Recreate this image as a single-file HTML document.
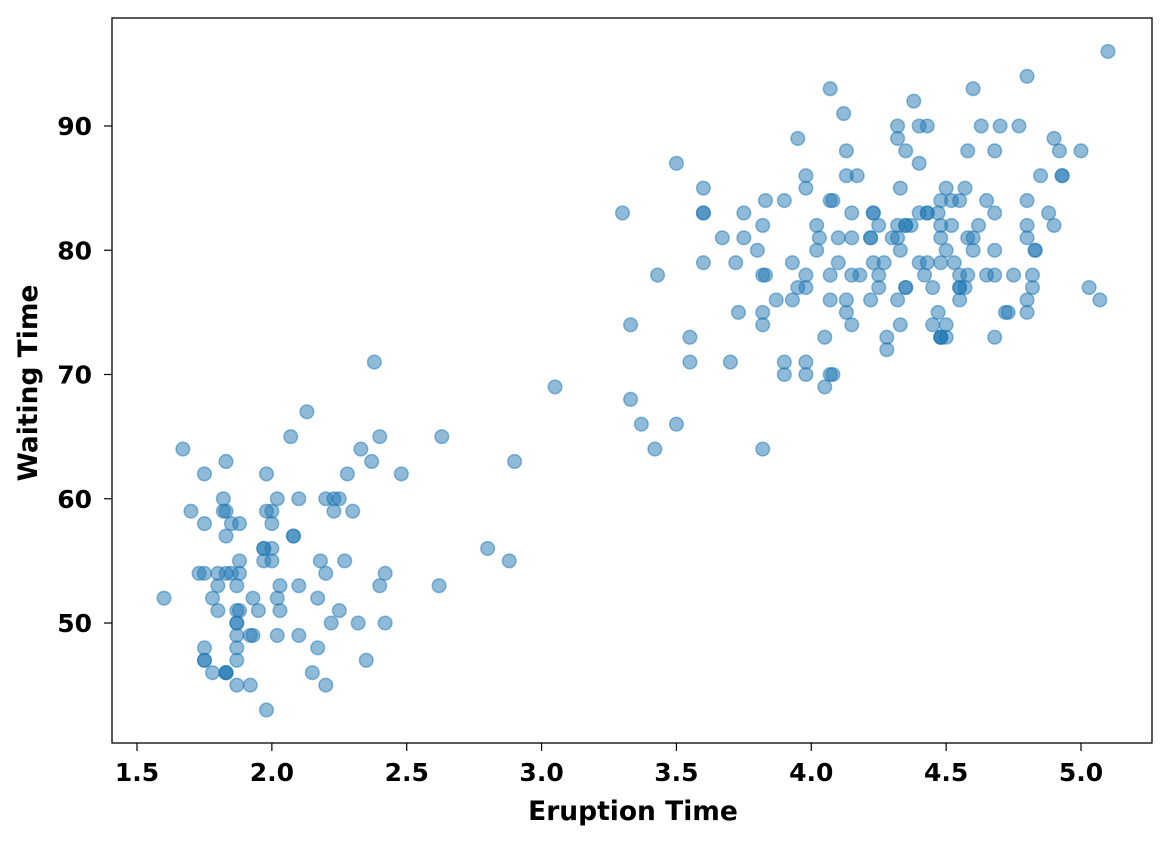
<!DOCTYPE html>
<html><head><meta charset="utf-8"><style>
html,body{margin:0;padding:0;background:#fff;}
svg{display:block;font-family:"DejaVu Sans","Liberation Sans",sans-serif;}
</style></head><body>
<svg id="chart" width="1172" height="844"></svg>
<script>
const eruptions = [1.6,1.67,1.7,1.73,1.75,1.75,1.75,1.75,1.75,1.75,1.78,1.78,1.8,1.8,1.8,1.82,1.82,1.83,1.83,1.83,1.83,1.83,1.83,1.83,1.85,1.85,1.87,1.87,1.87,1.87,1.87,1.87,1.87,1.87,1.88,1.88,1.88,1.88,1.92,1.92,1.93,1.93,1.95,1.97,1.97,1.97,1.98,1.98,1.98,2.0,2.0,2.0,2.0,2.02,2.02,2.02,2.03,2.03,2.07,2.08,2.08,2.1,2.1,2.1,2.13,2.15,2.17,2.17,2.18,2.2,2.2,2.2,2.22,2.23,2.23,2.25,2.25,2.27,2.28,2.3,2.32,2.33,2.35,2.37,2.38,2.4,2.4,2.42,2.42,2.48,2.62,2.63,2.8,2.88,2.9,3.05,
3.3,3.33,3.33,3.37,3.42,3.43,3.5,3.5,3.55,3.55,3.6,3.6,3.6,3.6,3.67,3.7,3.72,3.73,3.75,3.75,3.8,3.82,3.82,3.82,3.82,3.82,3.83,3.83,3.87,3.9,3.9,3.9,3.93,3.93,3.95,3.95,3.98,3.98,3.98,3.98,3.98,3.98,4.02,4.02,4.03,4.05,4.05,4.07,4.07,4.07,4.07,4.07,4.08,4.08,4.1,4.1,4.12,4.13,4.13,4.13,4.13,4.15,4.15,4.15,4.15,4.17,4.18,4.22,4.22,4.22,4.23,4.23,4.23,4.25,4.25,4.25,4.27,4.28,4.28,4.3,4.32,4.32,4.32,4.32,4.32,4.33,4.33,4.33,4.35,4.35,4.35,4.35,4.35,4.37,4.38,4.4,4.4,4.4,4.4,4.42,4.43,4.43,4.43,4.43,4.45,4.45,4.47,4.47,4.48,4.48,4.48,4.48,4.48,4.48,4.48,4.5,4.5,4.5,4.5,4.52,4.52,4.53,4.55,4.55,4.55,4.55,4.55,4.57,4.57,4.58,4.58,4.58,4.6,4.6,4.6,4.62,4.63,4.65,4.65,4.68,4.68,4.68,4.68,4.68,4.7,4.72,4.73,4.75,4.77,4.8,4.8,4.8,4.8,4.8,4.8,4.82,4.82,4.83,4.83,4.85,4.88,4.9,4.9,4.92,4.93,4.93,5.0,5.03,5.07,5.1];
const waiting = [52,64,59,54,54,62,58,48,47,47,52,46,53,51,54,60,59,59,63,57,54,46,46,46,58,54,53,51,50,50,49,48,47,45,58,55,54,51,45,49,52,49,51,56,56,55,62,59,43,59,58,56,55,60,52,49,53,51,65,57,57,60,53,49,67,46,52,48,55,60,54,45,50,60,59,60,51,55,62,59,50,64,47,63,71,65,53,54,50,62,53,65,56,55,63,69,
83,74,68,66,64,78,87,66,73,71,85,83,83,79,81,71,79,75,83,81,80,82,78,75,74,64,84,78,76,84,71,70,79,76,89,77,86,85,78,77,71,70,82,80,81,69,73,93,84,78,76,70,70,84,79,81,91,75,76,86,88,81,83,78,74,86,78,81,81,76,83,83,79,82,78,77,79,73,72,81,90,89,82,81,76,85,80,74,82,82,88,77,77,82,92,90,87,83,79,78,90,79,83,83,77,74,75,83,84,81,82,79,73,73,73,85,80,74,73,82,84,79,84,78,77,77,76,85,77,88,81,78,93,80,81,82,90,84,78,88,83,80,78,73,90,75,75,78,90,94,84,82,81,76,75,78,77,80,80,86,83,89,82,88,86,86,88,77,76,96];
const xTicks = [1.5,2.0,2.5,3.0,3.5,4.0,4.5,5.0];
const yTicks = [50,60,70,80,90];

const NS = "http://www.w3.org/2000/svg";
const svg = document.getElementById("chart");
const L=112, R=1152, T=18, B=743;
function xs(v){ return 137 + (v-1.5)*(944/3.5); }
function ys(v){ return 623 - (v-50)*(497/40); }
function mk(tag, attrs, parent){ const e=document.createElementNS(NS,tag); for(const k in attrs) e.setAttribute(k,attrs[k]); (parent||svg).appendChild(e); return e; }

const pts = mk("g",{});


for(let i=0;i<eruptions.length;i++){
  const c = mk("circle",{cx:xs(eruptions[i]),cy:ys(waiting[i]),r:6.8,fill:"#1f77b4","fill-opacity":0.5,stroke:"#1f77b4","stroke-opacity":0.5,"stroke-width":1.5},pts);
  
  
}

const frame = mk("rect",{x:L,y:T,width:R-L,height:B-T,fill:"none",stroke:"#000","stroke-width":1.3});



const xg = mk("g",{});


xTicks.forEach(v=>{
  const x=xs(v);
  mk("line",{x1:x,x2:x,y1:B,y2:B+8,stroke:"#000","stroke-width":1.2},xg);
  const t=mk("text",{x:x,y:781,"text-anchor":"middle","font-size":"25","font-weight":"bold",fill:"#000"},xg);
  t.textContent=v.toFixed(1);
  
  
});
const yg = mk("g",{});


yTicks.forEach(v=>{
  const y=ys(v);
  mk("line",{x1:L-8,x2:L,y1:y,y2:y,stroke:"#000","stroke-width":1.2},yg);
  const t=mk("text",{x:L-20,y:y+9,"text-anchor":"end","font-size":"25","font-weight":"bold",fill:"#000"},yg);
  t.textContent=String(v);
  
  
});
const xl=mk("text",{x:633,y:820,"text-anchor":"middle","font-size":"26.5","font-weight":"bold",fill:"#000"});
xl.textContent="Eruption Time";


const yl=mk("text",{x:0,y:0,"text-anchor":"middle","font-size":"26.5","font-weight":"bold",fill:"#000",transform:"translate(37,383) rotate(-90)"});
yl.textContent="Waiting Time";


</script>
</body></html>
